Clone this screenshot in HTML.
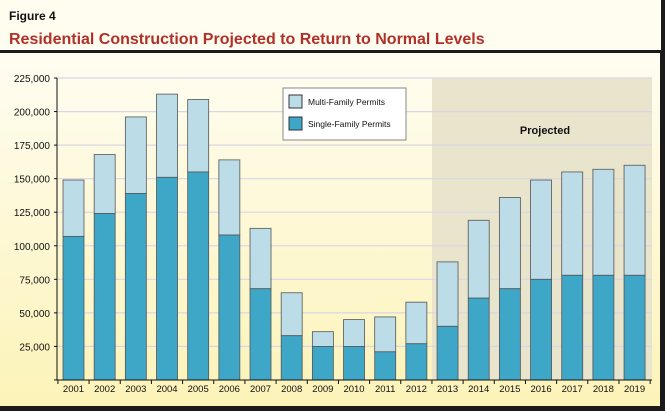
<!DOCTYPE html>
<html><head><style>
body{margin:0;width:665px;height:411px;overflow:hidden;background:#fff;}
</style></head><body>
<svg width="665" height="411" viewBox="0 0 665 411" xmlns="http://www.w3.org/2000/svg" font-family="Liberation Sans, Arial, sans-serif">
<defs>
<linearGradient id="bg" x1="0" y1="0" x2="0" y2="1">
<stop offset="0" stop-color="#fffdf2"/><stop offset="1" stop-color="#fcf3b8"/>
</linearGradient>
</defs>
<rect x="0" y="0" width="665" height="411" fill="#1a1a1a"/>
<rect x="0" y="0" width="661" height="50" fill="#fffdf0"/>
<text x="9" y="20" font-size="12" font-weight="bold" fill="#111">Figure 4</text>
<text x="9" y="44" font-size="16" font-weight="bold" fill="#b0302a">Residential Construction Projected to Return to Normal Levels</text>
<rect x="0" y="53" width="660" height="353" fill="url(#bg)"/>
<rect x="432" y="78" width="220" height="302" fill="#e9e4cc"/>
<g stroke="#d8d6e6" stroke-width="1.2">
<line x1="57" x2="652" y1="78" y2="78"/><line x1="57" x2="652" y1="111.6" y2="111.6"/>
<line x1="57" x2="652" y1="145.1" y2="145.1"/><line x1="57" x2="652" y1="178.7" y2="178.7"/>
<line x1="57" x2="652" y1="212.2" y2="212.2"/><line x1="57" x2="652" y1="245.8" y2="245.8"/>
<line x1="57" x2="652" y1="279.3" y2="279.3"/><line x1="57" x2="652" y1="312.9" y2="312.9"/>
<line x1="57" x2="652" y1="346.4" y2="346.4"/>
</g>
<g font-size="10" fill="#111" text-anchor="end">
<text x="50" y="82">225,000</text><text x="50" y="115.6">200,000</text><text x="50" y="149.1">175,000</text>
<text x="50" y="182.7">150,000</text><text x="50" y="216.2">125,000</text><text x="50" y="249.8">100,000</text>
<text x="50" y="283.3">75,000</text><text x="50" y="316.9">50,000</text><text x="50" y="350.4">25,000</text>
</g>
<g id="bars" stroke="#555" stroke-width="0.8"></g>
<line x1="57" y1="78" x2="57" y2="380" stroke="#111"/>
<line x1="57" y1="380" x2="652" y2="380" stroke="#111"/>
<g id="ticks" stroke="#111"></g>
<g id="lbl" font-size="9.5" fill="#111" text-anchor="middle"></g>
<rect x="283" y="88" width="123" height="52" fill="#fff" stroke="#888"/>
<rect x="289" y="95" width="13" height="13" fill="#bcdce8" stroke="#333"/>
<rect x="289" y="117" width="13" height="13" fill="#3ea6c6" stroke="#333"/>
<text x="308" y="105" font-size="8.5" fill="#111">Multi-Family Permits</text>
<text x="308" y="127" font-size="8.5" fill="#111">Single-Family Permits</text>
<text x="545" y="134" font-size="11" font-weight="bold" fill="#111" text-anchor="middle">Projected</text>
<script>
var d=[[149,107],[168,124],[196,139],[213,151],[209,155],[164,108],[113,68],[65,33],[36,25],[45,25],[47,21],[58,27],[88,40],[119,61],[136,68],[149,75],[155,78],[157,78],[160,78]];
var ns="http://www.w3.org/2000/svg",b=document.getElementById("bars"),t=document.getElementById("ticks"),l=document.getElementById("lbl");
function el(p,n,a){var e=document.createElementNS(ns,n);for(var k in a)e.setAttribute(k,a[k]);p.appendChild(e);return e;}
var s=302/225;
for(var i=0;i<19;i++){var c=73.5+i*31.17,x=c-10.5;
var yt=380-d[i][0]*s,ys=380-d[i][1]*s;
el(b,"rect",{x:x,y:yt,width:21,height:ys-yt,fill:"#bcdce8"});
el(b,"rect",{x:x,y:ys,width:21,height:380-ys,fill:"#3ea6c6"});
var tx=c-15.6;el(t,"line",{x1:tx,x2:tx,y1:380,y2:384});
var te=el(l,"text",{x:c,y:392});te.textContent=2001+i;}
el(t,"line",{x1:c+15.6,x2:c+15.6,y1:380,y2:384});
for(var j=0;j<10;j++){var yy=78+j*33.55;el(t,"line",{x1:54,x2:57,y1:yy,y2:yy});}
</script>
</svg>
</body></html>
